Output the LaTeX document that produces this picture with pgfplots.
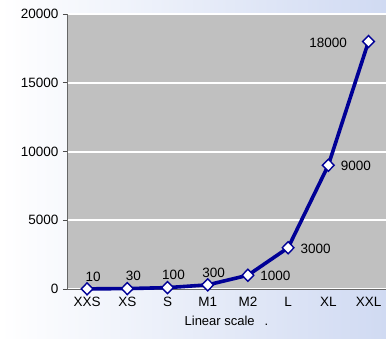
\documentclass[border=0pt]{standalone}
\usepackage{pgfplots}
\pgfplotsset{compat=1.18}
\usepackage{fontspec}
\setmainfont{Liberation Sans}
\definecolor{navy}{RGB}{0,0,150}
\definecolor{plotgray}{RGB}{192,192,192}
\definecolor{bgblue}{RGB}{208,218,242}
\begin{document}
\begin{tikzpicture}
% page background (the axis box has its lower left corner at the origin)
\shade[left color=white, right color=bgblue] (-67pt,-49pt) rectangle (319pt,289pt);
\begin{axis}[
  at={(0pt,0pt)}, anchor=south west,
  scale only axis, width=319pt, height=275pt,
  xmin=-0.5, xmax=7.435,
  ymin=0, ymax=20000,
  axis background/.style={fill=plotgray},
  axis x line*=bottom, axis y line*=left,
  axis line style={-, draw=black!60, line width=0.8pt},
  xtick={0,...,7},
  xticklabels={XXS,XS,S,M1,M2,L,XL,XXL},
  major x tick style={draw=none},
  extra x ticks={-0.5,0.5,1.5,2.5,3.5,4.5,5.5,6.5},
  extra x tick labels={},
  extra x tick style={major tick length=4pt, tick style={draw=black!70, line width=0.6pt}, grid=none},
  ytick={0,5000,10000,15000,20000},
  ymajorgrids,
  major grid style={white, line width=2pt},
  tick align=outside,
  major tick length=4pt,
  tick style={draw=black!70, line width=0.6pt},
  scaled y ticks=false,
  /pgf/number format/fixed,
  /pgf/number format/1000 sep={},
  /pgf/number format/assume math mode=true,
  ticklabel style={font=\fontsize{13.5}{16}\selectfont},
  xticklabel style={yshift=-1pt},
  yticklabel style={xshift=-1pt},
  xlabel={Linear scale\hspace{10pt}.},
  xlabel style={font=\fontsize{13}{16}\selectfont, yshift=6pt},
  clip=false,
]
% series
\addplot[navy, line width=3.6pt, mark=diamond*,
  mark size=6pt,
  mark options={fill=white, draw=navy, line width=1.4pt, xscale=1.3}]
  coordinates {(0,10) (1,30) (2,100) (3,300) (4,1000) (5,3000) (6,9000) (7,18000)};
% value labels above the small values
\addplot[draw=none, mark=none, point meta=explicit symbolic,
  nodes near coords,
  nodes near coords style={anchor=south, xshift=6pt, yshift=4pt, font=\fontsize{13.5}{16}\selectfont}]
  coordinates {(0,10)[10] (1,30)[30] (2,100)[100] (3,300)[300]};
% value labels to the right
\addplot[draw=none, mark=none, point meta=explicit symbolic,
  nodes near coords,
  nodes near coords style={anchor=west, xshift=9pt, yshift=-1pt, font=\fontsize{13.5}{16}\selectfont}]
  coordinates {(4,1000)[1000] (5,3000)[3000] (6,9000)[9000]};
% value label to the left
\addplot[draw=none, mark=none, point meta=explicit symbolic,
  nodes near coords,
  nodes near coords style={anchor=east, xshift=-18pt, yshift=-1pt, font=\fontsize{13.5}{16}\selectfont}]
  coordinates {(7,18000)[18000]};
\end{axis}
\pgfresetboundingbox
\path[use as bounding box] (-67pt,-49pt) rectangle (319pt,289pt);
\end{tikzpicture}
\end{document}
